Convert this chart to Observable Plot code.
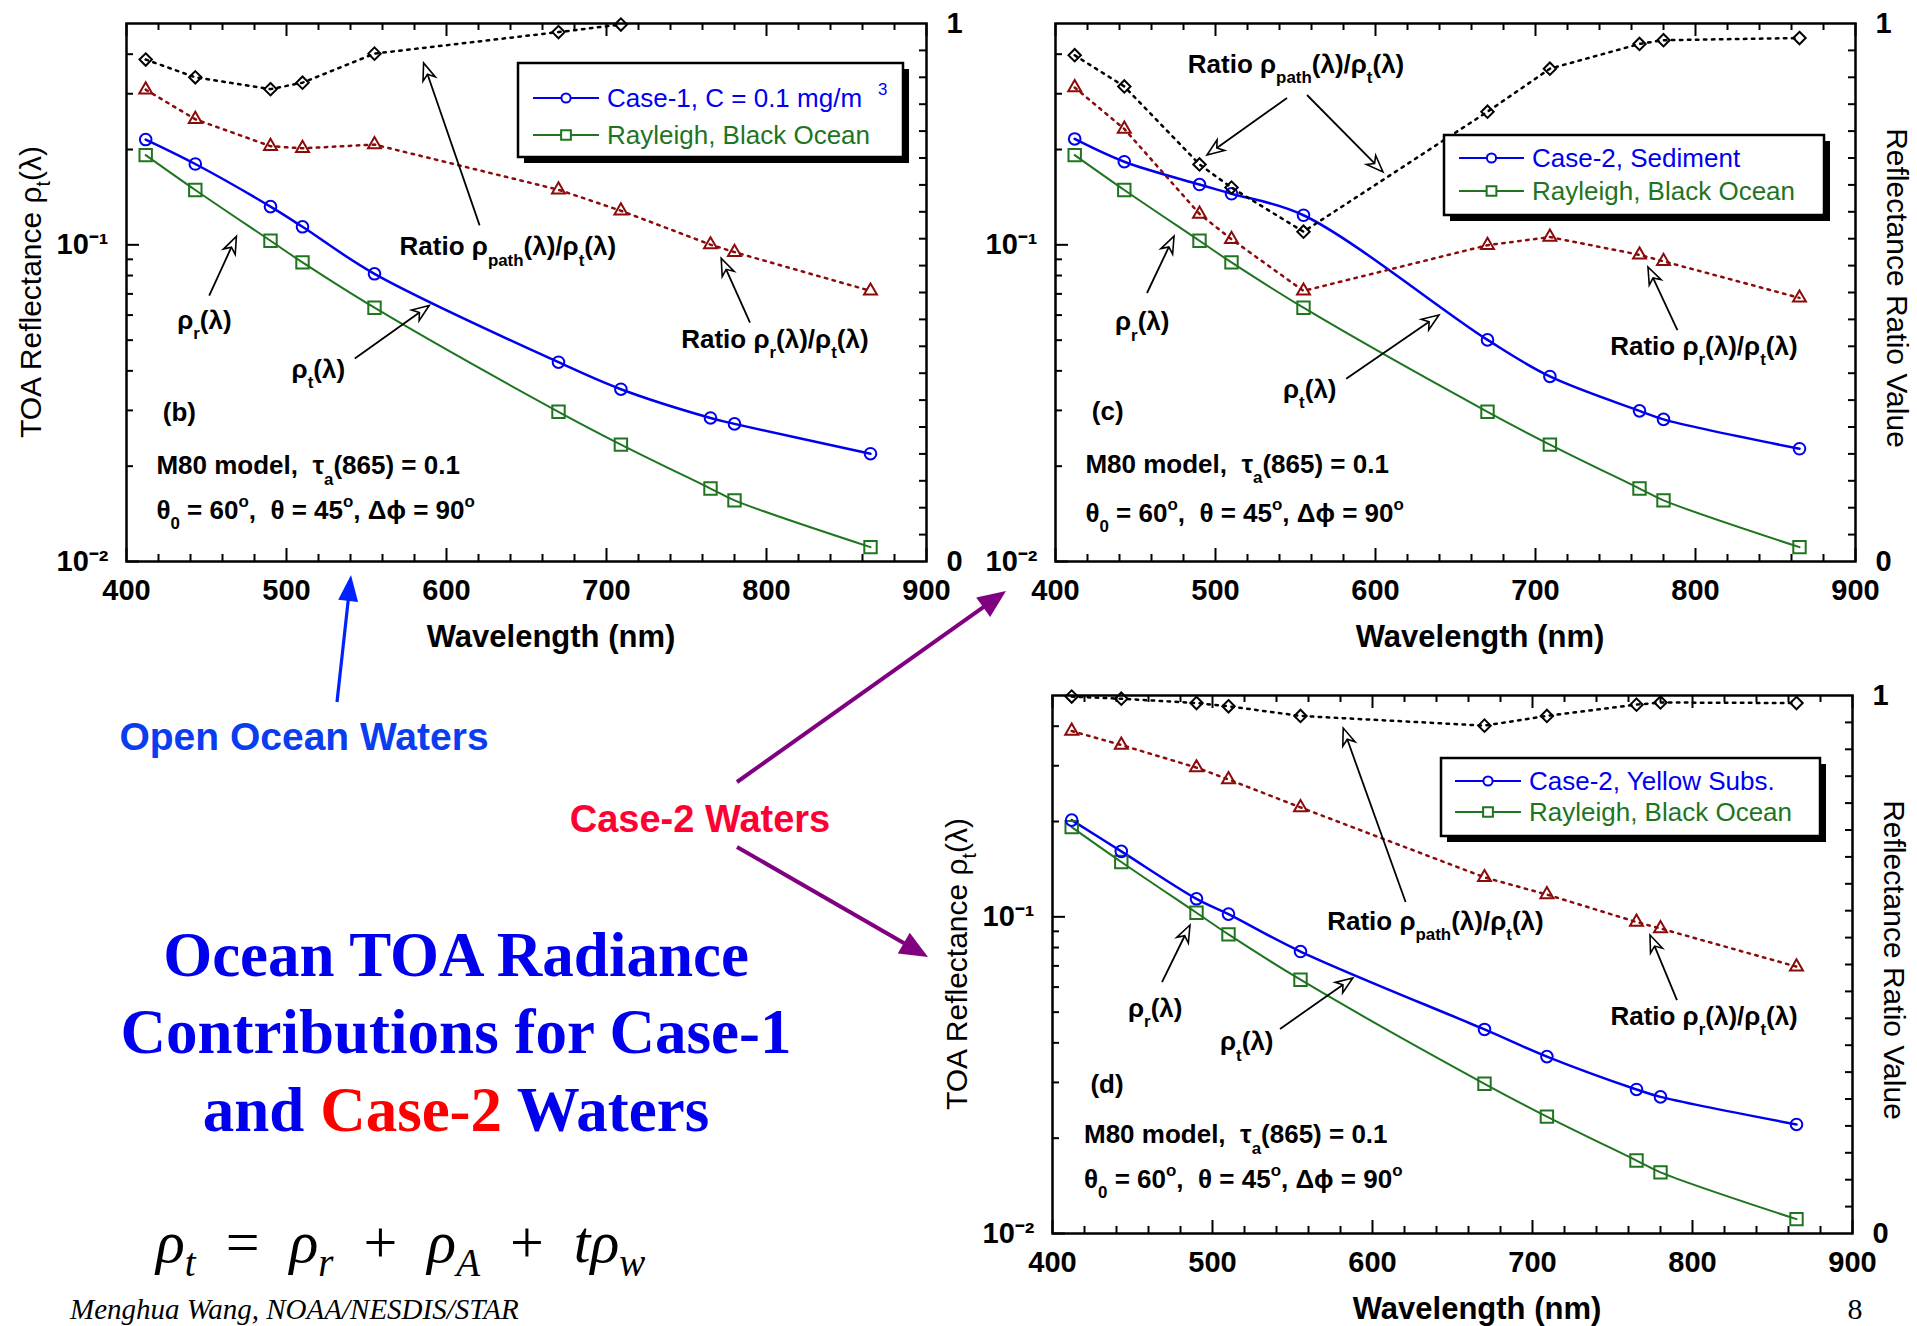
<!DOCTYPE html>
<html>
<head>
<meta charset="utf-8">
<script src="https://cdn.jsdelivr.net/npm/d3@7"></script>
<script src="https://cdn.jsdelivr.net/npm/@observablehq/plot@0.6"></script>
<style>
html, body { margin: 0; padding: 0; background: #fff; }
#slide { position: relative; width: 1917px; height: 1326px; overflow: hidden; background: #fff; }
.layer { position: absolute; }
.layer svg { max-width: none; display: block; }
</style>
</head>
<body>
<div id="slide"></div>
<script>
// ---------------- DATA ----------------
const wavelengths = [412, 443, 490, 510, 555, 670, 709, 765, 780, 865];
const rayleighBlackOcean = [0.192, 0.149, 0.103, 0.088, 0.0633, 0.0297, 0.0234, 0.0170, 0.0156, 0.0111];
const case1Chl01 = [0.215, 0.180, 0.132, 0.114, 0.081, 0.0426, 0.0350, 0.0284, 0.0272, 0.0219];
const case2Sediment = [0.216, 0.183, 0.155, 0.145, 0.124, 0.0501, 0.0384, 0.0299, 0.0281, 0.0227];
const case2YellowSubs = [0.202, 0.161, 0.114, 0.102, 0.0777, 0.0441, 0.0362, 0.0285, 0.0270, 0.0221];
const pathRatioCase1 = [0.933, 0.900, 0.878, 0.890, 0.944, 0.984, 0.998, null, null, null];
const rayRatioCase1 = [0.877, 0.822, 0.772, 0.768, 0.775, 0.691, 0.652, 0.589, 0.575, 0.503];
const pathRatioSediment = [0.941, 0.883, 0.738, 0.695, 0.613, 0.836, 0.916, 0.962, 0.969, 0.973];
const rayRatioSediment = [0.881, 0.804, 0.646, 0.599, 0.503, 0.588, 0.603, 0.570, 0.558, 0.490];
const pathRatioYellow = [0.998, 0.994, 0.986, 0.980, 0.962, 0.944, 0.962, 0.983, 0.987, 0.986];
const rayRatioYellow = [0.934, 0.908, 0.866, 0.844, 0.792, 0.662, 0.630, 0.579, 0.567, 0.496];

const xMajorTicks = [400, 500, 600, 700, 800, 900];
const xMinorTicks = [420, 440, 460, 480, 520, 540, 560, 580, 620, 640, 660, 680, 720, 740, 760, 780, 820, 840, 860, 880];
const logMajorTicks = [0.01, 0.1];
const logTickLabels = ["10⁻²", "10⁻¹"];
const logMinorTicks = [0.02, 0.03, 0.04, 0.05, 0.06, 0.07, 0.08, 0.09, 0.2, 0.3, 0.4];
const ratioTicks = [0.05, 0.1, 0.15, 0.2, 0.25, 0.3, 0.35, 0.4, 0.45, 0.5, 0.55, 0.6, 0.65, 0.7, 0.75, 0.8, 0.85, 0.9, 0.95];
const ratioTickLabels = [0, 1];

// ---------------- STYLE / LAYOUT ----------------
const SANS = '"Liberation Sans", Arial, Helvetica, sans-serif';
const SERIF = '"Liberation Serif", "Times New Roman", Times, serif';
const BLUE = "#0000f0", GREEN = "#1f741f", DARKRED = "#8b0a0a";
const DIAMOND = d3.symbolDiamond2 || "diamond";
const W = 800, H = 538, ML = 110, MR = 80, MT = 20, MB = 100;

const slide = d3.select("#slide");

// rich text helper: parts are strings or {t, k:"sub"|"sup", fill, it, dx}
function rich(parent, x, y, parts, o = {}) {
  const size = o.size ?? 25;
  const t = parent.append("text")
    .attr("x", x).attr("y", y)
    .attr("font-family", o.family ?? SANS)
    .attr("font-size", size)
    .attr("font-weight", o.weight ?? "bold")
    .attr("font-style", o.style ?? "normal")
    .attr("fill", o.fill ?? "#000")
    .attr("text-anchor", o.anchor ?? "start")
    .style("white-space", "pre");
  if (o.transform) t.attr("transform", o.transform);
  let cur = 0;
  for (const p0 of parts) {
    const p = typeof p0 === "string" ? {t: p0} : p0;
    const off = p.k === "sub" ? size * (o.subOff ?? 0.4) : p.k === "sup" ? -size * 0.45 : 0;
    const ts = t.append("tspan").text(p.t);
    if (off - cur !== 0) ts.attr("dy", off - cur);
    if (p.dx) ts.attr("dx", p.dx);
    ts.attr("font-size", p.k ? size * 0.65 : size);
    if (p.fill) ts.attr("fill", p.fill);
    if (p.it !== undefined) ts.attr("font-style", p.it ? "italic" : "normal");
    cur = off;
  }
  return t;
}

function arrowOpen(g, x1, y1, x2, y2) {
  const a = Math.atan2(y2 - y1, x2 - x1), c = Math.cos(a), s = Math.sin(a);
  const P = (u, v) => [x2 + u * c - v * s, y2 + u * s + v * c];
  const len = 17, hw = 6.5, notch = 12;
  const b = P(-notch, 0);
  g.append("line").attr("x1", x1).attr("y1", y1).attr("x2", b[0]).attr("y2", b[1])
    .attr("stroke", "#000").attr("stroke-width", 1.8);
  g.append("path").attr("d", "M" + [P(0, 0), P(-len, -hw), P(-notch, 0), P(-len, hw)].map(q => q.join(",")).join("L") + "Z")
    .attr("fill", "#fff").attr("stroke", "#000").attr("stroke-width", 1.6);
}

function arrowSolid(g, x1, y1, x2, y2, color, width, len, hw) {
  const a = Math.atan2(y2 - y1, x2 - x1), c = Math.cos(a), s = Math.sin(a);
  const P = (u, v) => [x2 + u * c - v * s, y2 + u * s + v * c];
  const b = P(-len + 2, 0);
  g.append("line").attr("x1", x1).attr("y1", y1).attr("x2", b[0]).attr("y2", b[1])
    .attr("stroke", color).attr("stroke-width", width);
  g.append("path").attr("d", "M" + [P(0, 0), P(-len, -hw), P(-len, hw)].map(q => q.join(",")).join("L") + "Z")
    .attr("fill", color);
}

const ratioPath = ["Ratio ρ", {t: "path", k: "sub"}, "(λ)/ρ", {t: "t", k: "sub"}, "(λ)"];
const ratioR = ["Ratio ρ", {t: "r", k: "sub"}, "(λ)/ρ", {t: "t", k: "sub"}, "(λ)"];
const rhoR = ["ρ", {t: "r", k: "sub"}, "(λ)"];
const rhoT = ["ρ", {t: "t", k: "sub"}, "(λ)"];
const m80 = ["M80 model,  τ", {t: "a", k: "sub"}, "(865) = 0.1"];
const angles = ["θ", {t: "0", k: "sub"}, " = 60", {t: "o", k: "sup"}, ",  θ = 45", {t: "o", k: "sup"}, ", Δϕ = 90", {t: "o", k: "sup"}];
const toaLabel = ["TOA Reflectance ρ", {t: "t", k: "sub"}, "(λ)"];

const panels = [
  {L: 126, T: 23, rho: case1Chl01, path: pathRatioCase1, rr: rayRatioCase1, tag: "(b)", leftTitle: true, rightTitle: false,
   texts: [[571, 0.0923, ratioPath], [747, 0.0472, ratioR], [432, 0.0542, rhoR], [503.5, 0.0379, rhoT]],
   arrows: [[621, 0.1148, 586, 0.374], [790, 0.0566, 772, 0.0903], [452, 0.0689, 469, 0.106], [543, 0.0436, 589.5, 0.0641]],
   info: [[423, 0.0277], [419, 0.0188], [419, 0.0136]]},
  {L: 1055, T: 23, rho: case2Sediment, path: pathRatioSediment, rr: rayRatioSediment, tag: "(c)", leftTitle: false, rightTitle: true,
   texts: [[483, 0.3476, ratioPath], [747, 0.0447, ratioR], [437.5, 0.0536, rhoR], [542.5, 0.0327, rhoT]],
   arrows: [[545, 0.2898, 495, 0.1915], [557.5, 0.2962, 605, 0.1692], [457.5, 0.0702, 474.4, 0.1062], [582, 0.0376, 640, 0.0598], [789, 0.0536, 770.6, 0.0848]],
   info: [[423, 0.0279], [419, 0.0190], [419, 0.0133]]},
  {L: 1052, T: 695, rho: case2YellowSubs, path: pathRatioYellow, rr: rayRatioYellow, tag: "(d)", leftTitle: true, rightTitle: true,
   texts: [[572, 0.0905, ratioPath], [749, 0.0454, ratioR], [447.5, 0.0481, rhoR], [505, 0.0378, rhoT]],
   arrows: [[621, 0.111, 582, 0.3933], [790.6, 0.0544, 773.75, 0.0873], [468.75, 0.062, 486.25, 0.0939], [542.5, 0.0441, 588, 0.0639]],
   info: [[424, 0.0277], [420, 0.0192], [420, 0.0139]]}
];

function buildPanel(p) {
  const rows = wavelengths.map((w, i) => ({w, rho: p.rho[i], ray: rayleighBlackOcean[i], path: p.path[i], rr: p.rr[i]}));
  const pathRows = rows.filter(d => d.path != null);
  const base = {
    width: ML + W + MR, height: MT + H + MB,
    marginLeft: ML, marginRight: MR, marginTop: MT, marginBottom: MB,
    style: {background: "transparent", overflow: "visible", maxWidth: "none", fontFamily: SANS, fontSize: "29px", fontWeight: "bold", color: "#000"}
  };
  const main = Plot.plot({
    ...base,
    x: {domain: [400, 900], label: null},
    y: {type: "log", domain: [0.01, 0.5], label: null},
    marks: [
      Plot.ruleX(xMinorTicks, {insetTop: H - 7, strokeWidth: 2}),
      Plot.ruleX(xMajorTicks, {insetTop: H - 13, strokeWidth: 2}),
      Plot.ruleX(xMinorTicks, {insetBottom: H - 7, strokeWidth: 2}),
      Plot.ruleX(xMajorTicks, {insetBottom: H - 13, strokeWidth: 2}),
      Plot.ruleY(logMinorTicks, {insetRight: W - 7, strokeWidth: 2}),
      Plot.ruleY(logMajorTicks, {insetRight: W - 13, strokeWidth: 2}),
      Plot.line(rows, {x: "w", y: "ray", stroke: GREEN, strokeWidth: 2, curve: "catmull-rom"}),
      Plot.line(rows, {x: "w", y: "rho", stroke: BLUE, strokeWidth: 2.5, curve: "catmull-rom"}),
      Plot.dot(rows, {x: "w", y: "ray", symbol: "square", r: 7, stroke: GREEN, strokeWidth: 2, fill: "none"}),
      Plot.dot(rows, {x: "w", y: "rho", symbol: "circle", r: 5.8, stroke: BLUE, strokeWidth: 2, fill: "none"}),
      Plot.frame({stroke: "#000", strokeWidth: 2.5}),
      Plot.axisX({ticks: xMajorTicks, tickSize: 0, tickPadding: 18, tickFormat: d => String(d), label: null}),
      Plot.axisY({ticks: logMajorTicks, tickSize: 0, tickPadding: 18, tickFormat: d => logTickLabels[logMajorTicks.indexOf(d)], label: null})
    ]
  });
  const over = Plot.plot({
    ...base,
    x: {domain: [400, 900], axis: null, label: null},
    y: {domain: [0, 1], label: null},
    marks: [
      Plot.ruleY(ratioTicks, {insetLeft: W - 7, strokeWidth: 2}),
      Plot.line(rows, {x: "w", y: "rr", stroke: DARKRED, strokeWidth: 2.5, strokeDasharray: "2.5 5.5"}),
      Plot.line(pathRows, {x: "w", y: "path", stroke: "#000", strokeWidth: 2.5, strokeDasharray: "2.5 5.5"}),
      Plot.dot(rows, {x: "w", y: "rr", symbol: "triangle", r: 4.8, stroke: DARKRED, strokeWidth: 2, fill: "none"}),
      Plot.dot(pathRows, {x: "w", y: "path", symbol: DIAMOND, r: 5.6, stroke: "#000", strokeWidth: 2, fill: "none"}),
      Plot.axisY({anchor: "right", ticks: ratioTickLabels, tickSize: 0, tickPadding: 20, tickFormat: d => String(d), label: null})
    ]
  });
  const left = p.L - ML, top = p.T - MT;
  slide.append("div").attr("class", "layer").style("left", left + "px").style("top", top + "px").node().appendChild(main);
  slide.append("div").attr("class", "layer").style("left", left + "px").style("top", top + "px").node().appendChild(over);

  const sx = main.scale("x"), sy = main.scale("y");
  const g = d3.select(over).append("g");
  for (const [x, y, parts] of p.texts) rich(g, sx.apply(x), sy.apply(y), parts, {size: 26});
  for (const [x1, y1, x2, y2] of p.arrows) arrowOpen(g, sx.apply(x1), sy.apply(y1), sx.apply(x2), sy.apply(y2));
  rich(g, sx.apply(p.info[0][0]), sy.apply(p.info[0][1]), [p.tag], {size: 26});
  rich(g, sx.apply(p.info[1][0]), sy.apply(p.info[1][1]), m80, {size: 26});
  rich(g, sx.apply(p.info[2][0]), sy.apply(p.info[2][1]), angles, {size: 26});
  // axis titles
  rich(g, ML + W / 2 + 25, MT + H + 86, ["Wavelength (nm)"], {size: 31, anchor: "middle"});
  if (p.leftTitle) rich(g, 0, 0, toaLabel, {size: 30, weight: "normal", anchor: "middle", subOff: 0.3,
    transform: `translate(${ML - 85},${MT + H / 2}) rotate(-90)`});
  if (p.rightTitle) rich(g, 0, 0, ["Reflectance Ratio Value"], {size: 30, weight: "normal", anchor: "middle",
    transform: `translate(${ML + W + 32},${MT + H / 2 - 4}) rotate(90)`});
}

panels.forEach(buildPanel);

// ---------------- SLIDE-LEVEL DECORATIONS ----------------
const page = slide.append("svg").attr("width", 1917).attr("height", 1326)
  .style("position", "absolute").style("left", "0px").style("top", "0px");

const legends = [
  {x: 518, y: 63, w: 385, h: 94, lx1: 533, lx2: 599, tx: 607, size: 26, rows: [
    {cy: 98, color: BLUE, symbol: d3.symbolCircle, r: 4.6, parts: ["Case-1, C = 0.1 mg/m", {t: "3", k: "sup", dx: 16}]},
    {cy: 135, color: GREEN, symbol: d3.symbolSquare, r: 5.5, parts: ["Rayleigh, Black Ocean"]}]},
  {x: 1444, y: 135, w: 380, h: 80, lx1: 1459, lx2: 1524, tx: 1532, size: 26, rows: [
    {cy: 158, color: BLUE, symbol: d3.symbolCircle, r: 4.6, parts: ["Case-2, Sediment"]},
    {cy: 191, color: GREEN, symbol: d3.symbolSquare, r: 5.5, parts: ["Rayleigh, Black Ocean"]}]},
  {x: 1441, y: 758, w: 379, h: 78, lx1: 1455, lx2: 1521, tx: 1529, size: 26, rows: [
    {cy: 781, color: BLUE, symbol: d3.symbolCircle, r: 4.6, parts: ["Case-2, Yellow Subs."]},
    {cy: 812, color: GREEN, symbol: d3.symbolSquare, r: 5.5, parts: ["Rayleigh, Black Ocean"]}]}
];
for (const lg of legends) {
  const g = page.append("g");
  g.append("rect").attr("x", lg.x + 6).attr("y", lg.y + 6).attr("width", lg.w).attr("height", lg.h).attr("fill", "#000");
  g.append("rect").attr("x", lg.x).attr("y", lg.y).attr("width", lg.w).attr("height", lg.h)
    .attr("fill", "#fff").attr("stroke", "#000").attr("stroke-width", 2.5);
  for (const r of lg.rows) {
    g.append("line").attr("x1", lg.lx1).attr("x2", lg.lx2).attr("y1", r.cy).attr("y2", r.cy)
      .attr("stroke", r.color).attr("stroke-width", 2.2);
    g.append("path").attr("transform", `translate(${(lg.lx1 + lg.lx2) / 2},${r.cy})`)
      .attr("d", d3.symbol(r.symbol, Math.PI * r.r * r.r)())
      .attr("fill", "#fff").attr("stroke", r.color).attr("stroke-width", 2);
    rich(g, lg.tx, r.cy + 9, r.parts, {size: lg.size, weight: "normal", fill: r.color});
  }
}

// big pointer arrows and labels
arrowSolid(page, 337, 702, 351, 575, "#0022ff", 3.2, 26, 10);
arrowSolid(page, 737, 782, 1006, 591, "#800080", 4, 28, 12);
arrowSolid(page, 737, 847, 928, 957, "#800080", 4, 28, 12);
rich(page, 304, 750, ["Open Ocean Waters"], {size: 39, fill: "#0a3cf0", anchor: "middle"});
rich(page, 700, 832, ["Case-2 Waters"], {size: 38, fill: "#ff0033", anchor: "middle"});

// title
const TBLUE = "#0000ee";
rich(page, 456, 976, ["Ocean TOA Radiance"], {family: SERIF, size: 63, fill: TBLUE, anchor: "middle"});
rich(page, 456, 1053, ["Contributions for Case-1"], {family: SERIF, size: 63, fill: TBLUE, anchor: "middle"});
rich(page, 456, 1131, ["and ", {t: "Case-2", fill: "#ff0000"}, " Waters"], {family: SERIF, size: 63, fill: TBLUE, anchor: "middle"});

// formula
const ens = "\u2002";
rich(page, 156, 1262, [
  {t: "ρ", it: true}, {t: "t", k: "sub", it: true},
  {t: ens + "=" + ens, it: false}, {t: "ρ", it: true}, {t: "r", k: "sub", it: true},
  {t: ens + "+" + ens, it: false}, {t: "ρ", it: true}, {t: "A", k: "sub", it: true},
  {t: ens + "+" + ens, it: false}, {t: "t", it: true}, {t: "ρ", it: true}, {t: "w", k: "sub", it: true}
], {family: SERIF, size: 60, weight: "normal", subOff: 0.24});

rich(page, 70, 1319, ["Menghua Wang, NOAA/NESDIS/STAR"], {family: SERIF, size: 29, weight: "normal", style: "italic"});
rich(page, 1855, 1319, ["8"], {family: SERIF, size: 30, weight: "normal", anchor: "middle"});
</script>
</body>
</html>
